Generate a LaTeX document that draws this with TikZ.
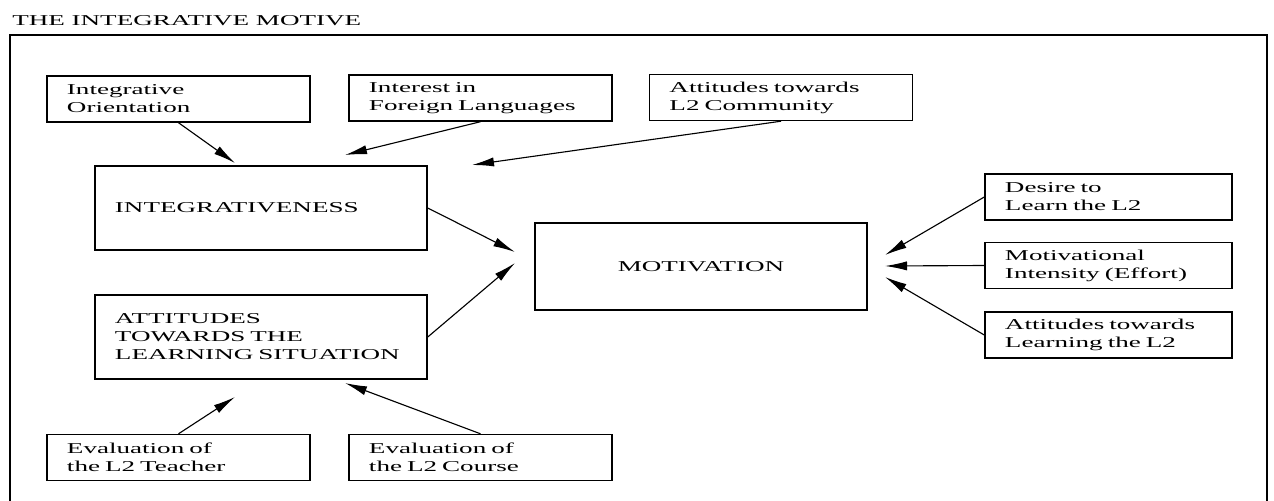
\documentclass[tikz,border=0pt]{standalone}
\usepackage{fontspec}
\setmainfont{Liberation Serif}[FakeStretch=1.8]
\usetikzlibrary{arrows.meta}

\begin{document}
\begin{tikzpicture}[x=0.025cm, y=-0.025cm, font=\fontsize{10.7}{12.8}\selectfont]
	\tikzstyle{block} = [rectangle, draw, fill=white, align=left, line width=1pt, inner xsep=0.5cm, inner ysep=0pt]
	\tikzstyle{small} = [block, text width=5.575cm, minimum height=1.15cm]
	\tikzstyle{right} = [block, text width=5.175cm, minimum height=1.15cm]
	\tikzstyle{big} = [block, text width=7.3cm, minimum height=2.1cm]
	\tikzstyle{line} = [draw, line width=0.8pt, -{Latex[length=0.55cm, width=0.23cm]}]

	\useasboundingbox (0,0) rectangle (1274,500);

	% Title and frame
	\node [anchor=base west, inner sep=0pt] (T) at (12,25) {THE INTEGRATIVE MOTIVE};
	\draw [line width=1pt] (10,505) -- (10,35) -- (1267,35) -- (1267,505);

	% Place nodes
	\node [small] (IO) at (178.5,99) {Integrative\\Orientation};
	\node [small] (IF) at (480.5,98) {Interest in\\Foreign Languages};
	\node [small] (AC) at (781,97.5) {Attitudes towards\\L2 Community};
	\node [big] (INT) at (261,208) {INTEGRATIVENESS};
	\node [big] (ATT) at (261,337) {ATTITUDES\\TOWARDS THE\\LEARNING SITUATION};
	\node [big, align=center, minimum height=2.175cm] (MOT) at (701,266.5) {MOTIVATION};
	\node [right] (DL) at (1108.5,197) {Desire to\\Learn the L2};
	\node [right] (MI) at (1108.5,265.5) {Motivational\\Intensity (Effort)};
	\node [right] (AL) at (1108.5,335) {Attitudes towards\\Learning the L2};
	\node [small] (ET) at (178.5,457.5) {Evaluation of\\the L2 Teacher};
	\node [small] (EC) at (480.5,457.5) {Evaluation of\\the L2 Course};

	% Arrow tips (they stop short of the boxes)
	\coordinate (tIO) at (235,163);
	\coordinate (tIF) at (345,155);
	\coordinate (tAC) at (472,165);
	\coordinate (tINT) at (515,252);
	\coordinate (tATT) at (515,263);
	\coordinate (tDL) at (885,255);
	\coordinate (tMI) at (885,266);
	\coordinate (tAL) at (885,277);
	\coordinate (tET) at (235,397);
	\coordinate (tEC) at (345,383);

	% Draw edges
	\path [line] (IO.south) -- (tIO);
	\path [line] (IF.south) -- (tIF);
	\path [line] (AC.south) -- (tAC);
	\path [line] (INT.east) -- (tINT);
	\path [line] (ATT.east) -- (tATT);
	\path [line] (DL.west) -- (tDL);
	\path [line] (MI.west) -- (tMI);
	\path [line] (AL.west) -- (tAL);
	\path [line] (ET.north) -- (tET);
	\path [line] (EC.north) -- (tEC);
\end{tikzpicture}
\end{document}
